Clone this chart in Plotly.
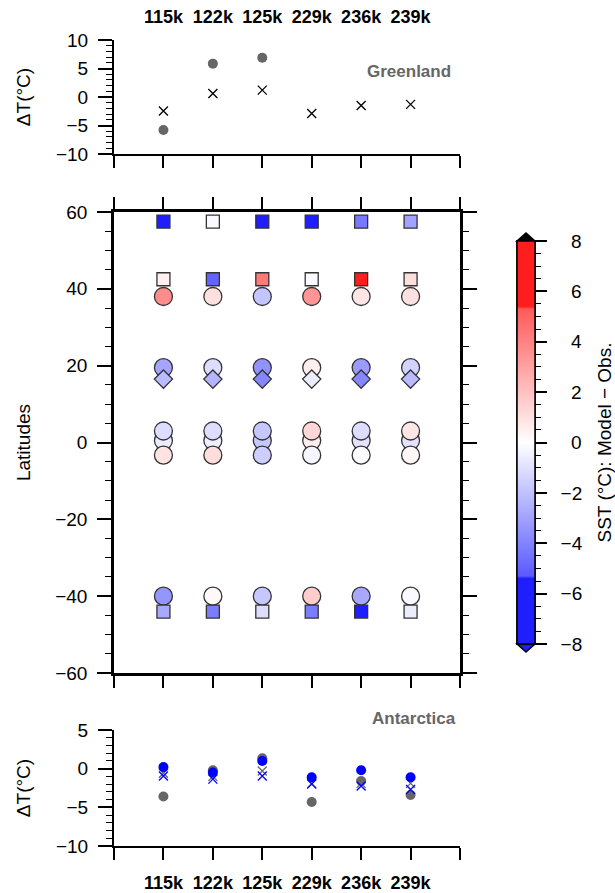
import plotly.graph_objects as go

# ---------------- data ----------------
ages = ["115k", "122k", "125k", "229k", "236k", "239k"]
age_pos = [1, 2, 3, 4, 5, 6]

# Greenland (top panel)
greenland_ice = [-5.8, 5.85, 6.9, None, None, None]
greenland_model = [-2.45, 0.6, 1.2, -2.9, -1.5, -1.3]

# Antarctica (bottom panel)
antarctica_ice_gray = [-3.6, -0.2, 1.35, -4.3, -1.6, -3.4]
antarctica_ice_blue = [0.2, -0.5, 1.0, -1.1, -0.2, -1.1]
antarctica_model_gray = [-0.6, -1.0, -0.3, -1.9, -1.9, -1.9]
antarctica_model_blue = [-0.95, -1.35, -0.95, -2.0, -2.25, -2.7]

# SST model - obs at marine sites (main panel)
lat_sq_n57, sst_sq_n57 = 57.5, [-7.0, -0.2, -7.0, -6.5, -4.3, -3.0]
lat_sq_n42, sst_sq_n42 = 42.5, [0.5, -5.0, 4.3, -0.2, 6.5, 1.1]
lat_ci_n38, sst_ci_n38 = 38.0, [3.7, 1.0, -1.9, 3.4, 0.8, 1.0]
lat_ci_n19, sst_ci_n19 = 19.5, [-2.9, -1.1, -3.5, 0.5, -3.2, -1.4]
lat_di_n16, sst_di_n16 = 16.5, [-2.2, -2.4, -3.9, -0.6, -3.9, -2.2]
lat_ci_n0, sst_ci_n0 = 0.5, [-0.6, -0.5, -1.8, 0.6, -0.9, -0.9]
lat_ci_n3, sst_ci_n3 = 3.0, [-1.1, -1.1, -1.8, 1.3, -1.1, 0.8]
lat_ci_s3, sst_ci_s3 = -3.3, [0.9, 1.1, -1.6, -0.3, -0.1, 0.3]
lat_ci_s40, sst_ci_s40 = -40.0, [-3.4, 0.2, -1.8, 1.6, -2.8, -0.2]
lat_sq_s44, sst_sq_s44 = -44.0, [-2.8, -4.2, -1.1, -4.2, -7.0, -0.6]

cb_ticks = [-8, -6, -4, -2, 0, 2, 4, 6, 8]
cb_title = "SST (°C): Model − Obs."

# ---------------- styling ----------------
W, H = 615, 893
FONT = "Liberation Sans, Arial, Helvetica, sans-serif"
GRAY = "#666666"

def px_x(p):
    return p / W

def px_y(p):
    return 1 - p / H

xd = [px_x(114), px_x(460)]
dom_top = [px_y(154), px_y(40)]
dom_main = [px_y(673), px_y(212)]
dom_bot = [px_y(846), px_y(730)]

colorscale = [
    [0.0, "rgb(30,30,255)"],
    [0.1625, "rgb(30,30,255)"],
    [0.16875, "rgb(90,90,255)"],
    [0.5, "rgb(255,255,255)"],
    [0.83125, "rgb(255,90,90)"],
    [0.8375, "rgb(255,30,30)"],
    [1.0, "rgb(255,30,30)"],
]

fig = go.Figure()

# ---- top panel: Greenland ----
fig.add_trace(go.Scatter(x=age_pos, y=greenland_ice, mode="markers", xaxis="x", yaxis="y",
                         marker=dict(symbol="circle", size=10, color=GRAY), showlegend=False))
fig.add_trace(go.Scatter(x=age_pos, y=greenland_model, mode="markers", xaxis="x4", yaxis="y",
                         marker=dict(symbol="x-thin", size=9, line=dict(color="black", width=1.3)),
                         showlegend=False))

# ---- main panel ----
mline = dict(color="#333333", width=1.3)
circle_rows = [(lat_ci_n0, sst_ci_n0), (lat_ci_n3, sst_ci_n3), (lat_ci_s3, sst_ci_s3),
               (lat_ci_n38, sst_ci_n38), (lat_ci_n19, sst_ci_n19), (lat_ci_s40, sst_ci_s40)]
for lat, vals in circle_rows:
    fig.add_trace(go.Scatter(x=age_pos, y=[lat] * len(vals), mode="markers", xaxis="x2", yaxis="y2",
                             marker=dict(symbol="circle", size=18, color=vals, coloraxis="coloraxis2",
                                         line=mline), showlegend=False))
square_rows = [(lat_sq_n57, sst_sq_n57), (lat_sq_n42, sst_sq_n42), (lat_sq_s44, sst_sq_s44)]
for lat, vals in square_rows:
    fig.add_trace(go.Scatter(x=age_pos, y=[lat] * len(vals), mode="markers", xaxis="x2", yaxis="y2",
                             marker=dict(symbol="square", size=13, color=vals, coloraxis="coloraxis",
                                         line=mline), showlegend=False))
fig.add_trace(go.Scatter(x=age_pos, y=[lat_di_n16] * 6, mode="markers", xaxis="x2", yaxis="y2",
                         marker=dict(symbol="diamond", size=14, color=sst_di_n16, coloraxis="coloraxis",
                                     line=mline), showlegend=False))

# ---- bottom panel: Antarctica ----
fig.add_trace(go.Scatter(x=age_pos, y=antarctica_ice_gray, mode="markers", xaxis="x3", yaxis="y3",
                         marker=dict(symbol="circle", size=10, color=GRAY), showlegend=False))
fig.add_trace(go.Scatter(x=age_pos, y=antarctica_model_gray, mode="markers", xaxis="x3", yaxis="y3",
                         marker=dict(symbol="x-thin", size=9, line=dict(color=GRAY, width=1.3)),
                         showlegend=False))
fig.add_trace(go.Scatter(x=age_pos, y=antarctica_ice_blue, mode="markers", xaxis="x3", yaxis="y3",
                         marker=dict(symbol="circle", size=10, color="blue"), showlegend=False))
fig.add_trace(go.Scatter(x=age_pos, y=antarctica_model_blue, mode="markers", xaxis="x3", yaxis="y3",
                         marker=dict(symbol="x-thin", size=9, line=dict(color="blue", width=1.3)),
                         showlegend=False))

tickfont = dict(family=FONT, size=19, color="black")
boldfont = dict(family=FONT, size=18, color="black", weight="bold")
titlefont = dict(family=FONT, size=19, color="black")

def xax(anchor, **kw):
    d = dict(domain=xd, anchor=anchor, range=[0, 7], tick0=0, dtick=1, ticks="outside", ticklen=12,
             tickwidth=1.5, tickcolor="black", showline=True, linecolor="black", linewidth=2,
             showgrid=False, zeroline=False, showticklabels=False, automargin=False)
    d.update(kw)
    return d

def yax(anchor, domain, rng, dtick, mdtick, title, **kw):
    d = dict(domain=domain, anchor=anchor, range=rng, tick0=0, dtick=dtick, ticks="outside", ticklen=14,
             tickwidth=1.5, tickcolor="black", showline=True, linecolor="black", linewidth=2,
             showgrid=False, zeroline=False, tickfont=tickfont, automargin=False,
             ticklabelstandoff=6,
             minor=dict(ticks="outside", ticklen=6, dtick=mdtick, tickwidth=1, tickcolor="black",
                        showgrid=False),
             title=dict(text=title, font=titlefont, standoff=20))
    d.update(kw)
    return d

cb_common = dict(x=px_x(517), xanchor="left", xpad=0, ypad=0, thickness=18, thicknessmode="pixels",
                 len=403 / H, lenmode="fraction", y=px_y(442.5), yanchor="middle",
                 outlinecolor="black", outlinewidth=1.5)

fig.update_layout(
    width=W, height=H, margin=dict(l=0, r=0, t=0, b=0, autoexpand=False),
    paper_bgcolor="white", plot_bgcolor="white", showlegend=False,
    font=dict(family=FONT, color="black"),
    xaxis=xax("y"),
    yaxis=yax("x", dom_top, [-10, 10], 5, 1, "ΔT(°C)"),
    xaxis4=dict(overlaying="x", side="top", anchor="y", range=[0, 7], tickvals=age_pos, ticktext=ages,
                ticks="", showline=False, showgrid=False, zeroline=False, tickfont=boldfont,
                ticklabelstandoff=12, automargin=False),
    xaxis2=xax("y2", mirror="ticks", linewidth=2.5),
    yaxis2=yax("x2", dom_main, [-60, 60], 20, 5, "Latitudes", mirror="ticks", linewidth=2.5),
    xaxis3=xax("y3", tickmode="array", tickvals=[0] + age_pos + [7], ticktext=[""] + ages + [""],
               showticklabels=True, tickfont=boldfont, ticklabelstandoff=7),
    yaxis3=yax("x3", dom_bot, [-10, 5], 5, 1, "ΔT(°C)"),
    coloraxis=dict(cmin=-8, cmax=8, colorscale=colorscale,
                   colorbar=dict(**cb_common, tickmode="array", tickvals=cb_ticks,
                                 ticktext=[("\u2002−%d" % -v) if v < 0 else ("\u2002\u2007%d" % v)
                                           for v in cb_ticks],
                                 ticks="outside", ticklen=12, tickwidth=1.5, tickcolor="black",
                                 tickfont=tickfont)),
    coloraxis2=dict(cmin=-8, cmax=8, colorscale=colorscale,
                    colorbar=dict(**cb_common, tickmode="linear", tick0=-8, dtick=0.5,
                                  ticks="outside", ticklen=6, tickwidth=1, tickcolor="black",
                                  showticklabels=False)),
    annotations=[
        dict(text="Greenland", x=px_x(453), y=px_y(71), xref="paper", yref="paper", xanchor="right",
             yanchor="middle", showarrow=False, font=dict(family=FONT, size=17, color=GRAY, weight="bold")),
        dict(text="Antarctica", x=px_x(458), y=px_y(718), xref="paper", yref="paper", xanchor="right",
             yanchor="middle", showarrow=False, font=dict(family=FONT, size=17, color=GRAY, weight="bold")),
        dict(text=cb_title, x=px_x(604), y=px_y(442.5), xref="paper", yref="paper", xanchor="center",
             yanchor="middle", textangle=-90, showarrow=False, font=titlefont),
    ],
    shapes=[
        dict(type="path", xref="paper", yref="paper",
             path="M %f,%f L %f,%f L %f,%f Z" % (px_x(517), px_y(241), px_x(526), px_y(233),
                                                  px_x(535), px_y(241)),
             fillcolor="black", line=dict(color="black", width=1.5)),
        dict(type="path", xref="paper", yref="paper",
             path="M %f,%f L %f,%f L %f,%f Z" % (px_x(517), px_y(644), px_x(526), px_y(652),
                                                  px_x(535), px_y(644)),
             fillcolor="rgb(30,30,255)", line=dict(color="black", width=1.5)),
    ],
)

fig.write_html("out.html")
